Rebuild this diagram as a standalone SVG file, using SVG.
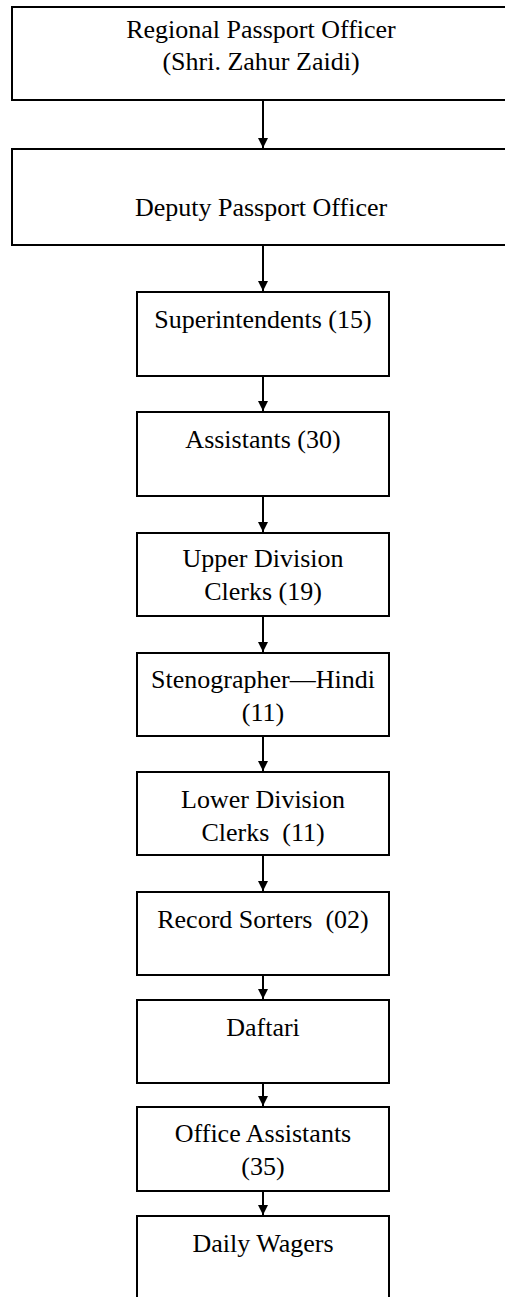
<svg xmlns="http://www.w3.org/2000/svg" width="505" height="1297" viewBox="0 0 505 1297">
<style>
.box{fill:#fff;stroke:#000;stroke-width:2}
.t{font-family:"Liberation Serif","Times New Roman",serif;font-size:26px;fill:#000;text-anchor:middle;white-space:pre}
.c{stroke:#000;stroke-width:2;fill:none}
</style>
<defs>
<marker id="ah" viewBox="0 0 10 10" refX="10" refY="5" markerWidth="10" markerHeight="10" markerUnits="userSpaceOnUse" orient="auto">
<path d="M0,0 L10,5 L0,10 Z" fill="#000"/>
</marker>
</defs>
<rect width="505" height="1297" fill="#fff"/>
<g id="n1"><rect class="box" x="12" y="7" width="510" height="93"/>
<text class="t" x="261" y="38">Regional Passport Officer</text>
<text class="t" x="261" y="70">(Shri. Zahur Zaidi)</text></g>
<g id="n2"><rect class="box" x="12" y="149" width="510" height="96"/>
<text class="t" x="261" y="216">Deputy Passport Officer</text></g>
<g id="n3"><rect class="box" x="137" y="292" width="252" height="84"/>
<text class="t" x="263" y="328">Superintendents (15)</text></g>
<g id="n4"><rect class="box" x="137" y="412" width="252" height="84"/>
<text class="t" x="263" y="448">Assistants (30)</text></g>
<g id="n5"><rect class="box" x="137" y="533" width="252" height="83"/>
<text class="t" x="263" y="567">Upper Division</text>
<text class="t" x="263" y="600">Clerks (19)</text></g>
<g id="n6"><rect class="box" x="137" y="653" width="252" height="83"/>
<text class="t" x="263" y="688">Stenographer—Hindi</text>
<text class="t" x="263" y="721">(11)</text></g>
<g id="n7"><rect class="box" x="137" y="772" width="252" height="83"/>
<text class="t" x="263" y="808">Lower Division</text>
<text class="t" x="263" y="841">Clerks  (11)</text></g>
<g id="n8"><rect class="box" x="137" y="892" width="252" height="83"/>
<text class="t" x="263" y="928">Record Sorters  (02)</text></g>
<g id="n9"><rect class="box" x="137" y="1000" width="252" height="83"/>
<text class="t" x="263" y="1036">Daftari</text></g>
<g id="n10"><rect class="box" x="137" y="1107" width="252" height="84"/>
<text class="t" x="263" y="1142">Office Assistants</text>
<text class="t" x="263" y="1175">(35)</text></g>
<g id="n11"><rect class="box" x="137" y="1216" width="252" height="100"/>
<text class="t" x="263" y="1252">Daily Wagers</text></g>
<g id="connectors">
<line class="c" x1="263" y1="100" x2="263" y2="148" marker-end="url(#ah)"/>
<line class="c" x1="263" y1="245" x2="263" y2="291" marker-end="url(#ah)"/>
<line class="c" x1="263" y1="376" x2="263" y2="411" marker-end="url(#ah)"/>
<line class="c" x1="263" y1="496" x2="263" y2="532" marker-end="url(#ah)"/>
<line class="c" x1="263" y1="616" x2="263" y2="652" marker-end="url(#ah)"/>
<line class="c" x1="263" y1="736" x2="263" y2="771" marker-end="url(#ah)"/>
<line class="c" x1="263" y1="855" x2="263" y2="891" marker-end="url(#ah)"/>
<line class="c" x1="263" y1="975" x2="263" y2="999" marker-end="url(#ah)"/>
<line class="c" x1="263" y1="1083" x2="263" y2="1106" marker-end="url(#ah)"/>
<line class="c" x1="263" y1="1191" x2="263" y2="1215" marker-end="url(#ah)"/>
</g>
</svg>
